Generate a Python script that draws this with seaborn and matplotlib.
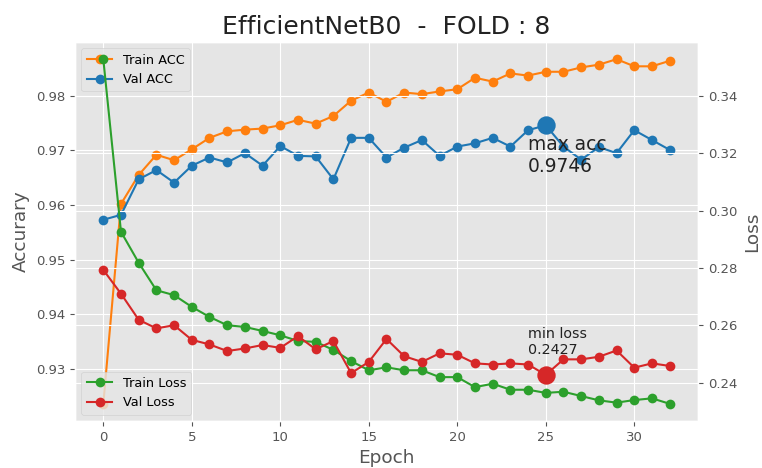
import numpy as np
import matplotlib
matplotlib.use("Agg")
import matplotlib.pyplot as plt
import seaborn as sns

epochs = list(range(33))
train_acc = [0.9236, 0.9602, 0.9655, 0.9692, 0.9682, 0.9702, 0.9723, 0.9735, 0.9738, 0.9740,
             0.9746, 0.9756, 0.9749, 0.9763, 0.9791, 0.9806, 0.9789, 0.9806, 0.9803, 0.9808,
             0.9812, 0.9833, 0.9826, 0.9841, 0.9837, 0.9844, 0.9844, 0.9852, 0.9857, 0.9867,
             0.9854, 0.9854, 0.9864]
val_acc = [0.9573, 0.9582, 0.9647, 0.9664, 0.9641, 0.9672, 0.9687, 0.9678, 0.9695, 0.9672,
           0.9708, 0.9690, 0.9689, 0.9647, 0.9723, 0.9723, 0.9687, 0.9705, 0.9719, 0.9690,
           0.9707, 0.9713, 0.9723, 0.9707, 0.9737, 0.9746, 0.9707, 0.9683, 0.9706, 0.9695,
           0.9737, 0.9719, 0.9701]
train_loss = [0.3528, 0.2926, 0.2818, 0.2722, 0.2705, 0.2664, 0.2629, 0.2600, 0.2594, 0.2580,
              0.2565, 0.2545, 0.2542, 0.2514, 0.2475, 0.2443, 0.2453, 0.2443, 0.2443, 0.2419,
              0.2419, 0.2384, 0.2396, 0.2375, 0.2375, 0.2364, 0.2368, 0.2353, 0.2338, 0.2330,
              0.2339, 0.2345, 0.2326]
val_loss = [0.2793, 0.2710, 0.2619, 0.2589, 0.2600, 0.2549, 0.2533, 0.2510, 0.2519, 0.2531,
            0.2521, 0.2562, 0.2516, 0.2545, 0.2433, 0.2472, 0.2552, 0.2492, 0.2472, 0.2502,
            0.2497, 0.2467, 0.2463, 0.2467, 0.2463, 0.2427, 0.2481, 0.2481, 0.2490, 0.2512,
            0.2452, 0.2467, 0.2458]

C_ORANGE = "#ff7f0e"
C_BLUE = "#1f77b4"
C_GREEN = "#2ca02c"
C_RED = "#d62728"

plt.style.use("ggplot")
plt.rcParams["font.family"] = ["DejaVu Sans"]

fig = plt.figure(figsize=(7.62, 4.68), dpi=100)
ax1 = fig.add_axes([0.0984, 0.1004, 0.916 - 0.0984, 0.9103 - 0.1004])
ax2 = ax1.twinx()

lw = 1.5
ms = 7
sns.lineplot(x=epochs, y=train_acc, ax=ax1, color=C_ORANGE, marker="o", markersize=ms,
             markeredgewidth=0, linewidth=lw, label="Train ACC", legend=False)
sns.lineplot(x=epochs, y=val_acc, ax=ax1, color=C_BLUE, marker="o", markersize=ms,
             markeredgewidth=0, linewidth=lw, label="Val ACC", legend=False)
sns.lineplot(x=epochs, y=train_loss, ax=ax2, color=C_GREEN, marker="o", markersize=ms,
             markeredgewidth=0, linewidth=lw, label="Train Loss", legend=False)
sns.lineplot(x=epochs, y=val_loss, ax=ax2, color=C_RED, marker="o", markersize=ms,
             markeredgewidth=0, linewidth=lw, label="Val Loss", legend=False)

ia = int(np.argmax(val_acc))
il = int(np.argmin(val_loss))
ax1.scatter([epochs[ia]], [val_acc[ia]], s=175, color=C_BLUE, linewidths=0, zorder=3)
ax2.scatter([epochs[il]], [val_loss[il]], s=175, color=C_RED, linewidths=0, zorder=3)

ax1.text(epochs[ia] - 1, val_acc[ia] - 0.0085, f"max acc\n{val_acc[ia]:.4f}",
         fontsize=13.4, color="#222222")
ax2.text(epochs[il] - 1, val_loss[il] + 0.0072, f"min loss\n{val_loss[il]:.4f}",
         fontsize=10.3, color="#222222")

ax1.set_title("EfficientNetB0  -  FOLD : 8", fontsize=18, color="#222222")
ax1.set_xlabel("Epoch", fontsize=13.3)
ax1.set_ylabel("Accurary", fontsize=13.3)
ax2.set_ylabel("Loss", fontsize=13.3)
for ax in (ax1, ax2):
    ax.tick_params(labelsize=9.5)
ax1.set_xticks([0, 5, 10, 15, 20, 25, 30])

ax1.legend(loc="upper left", fontsize=9.3)
ax2.legend(loc="lower left", fontsize=9.3)

fig.savefig("out.png", dpi=100)
